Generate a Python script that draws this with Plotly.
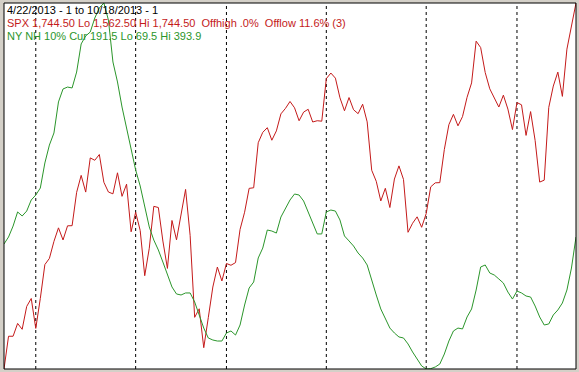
import pandas as pd
import plotly.graph_objects as go

# Trading days 4/22/2013 .. 10/18/2013
holidays = ["2013-05-27", "2013-07-04", "2013-09-02"]
dates = [d for d in pd.bdate_range("2013-04-22", "2013-10-18") if d.strftime("%Y-%m-%d") not in holidays]

spx = [
    1562.50, 1578.78, 1578.79, 1585.16, 1582.24, 1593.61, 1597.57,
    1582.70, 1597.59, 1614.42, 1617.50, 1625.96, 1632.69, 1626.67, 1633.70, 1633.77,
    1650.34, 1658.78, 1650.47, 1667.47, 1666.29, 1669.16, 1655.35, 1650.51, 1649.60,
    1660.06, 1648.36, 1654.41, 1630.74,
    1640.42, 1631.38, 1608.90, 1622.56, 1643.38, 1642.81, 1626.13, 1612.52, 1636.36,
    1626.73, 1639.04, 1651.81, 1628.93, 1588.19, 1592.43, 1573.09, 1588.03, 1603.26,
    1613.20, 1606.28,
    1614.96, 1614.08, 1615.41, 1631.89, 1640.46, 1652.32, 1652.62, 1675.02, 1680.19,
    1682.50, 1676.26, 1680.91, 1689.37, 1692.09, 1695.53, 1692.39, 1685.94, 1690.25,
    1691.65, 1685.33, 1685.96, 1685.73,
    1706.87, 1709.67, 1707.14, 1697.37, 1690.91, 1697.48, 1691.42, 1689.47, 1694.16,
    1685.39, 1661.32, 1655.83, 1646.06, 1652.35, 1642.80, 1656.96, 1663.50, 1656.78,
    1630.48, 1634.96, 1638.17, 1632.97,
    1639.77, 1653.08, 1655.08, 1655.17, 1671.71, 1683.99, 1689.13, 1683.42, 1687.99,
    1697.60, 1704.76, 1725.52, 1722.34, 1709.91, 1701.84, 1697.42, 1692.77, 1698.67,
    1691.75, 1681.55,
    1695.00, 1693.87, 1678.66, 1690.50, 1676.12, 1655.45, 1656.40, 1692.56, 1703.20,
    1710.14, 1698.06, 1721.54, 1733.15, 1744.50,
]

ny_nh = [
    180.3, 186.5, 196.2, 208.7, 205.1, 209.5, 219.3,
    223.7, 229.9, 252.1, 268.0, 278.7, 306.2, 317.7, 319.4, 318.6,
    332.7, 357.6, 364.7, 368.2, 380.6, 389.5, 393.9, 378.8, 341.6,
    323.9, 301.7, 284.0, 265.4,
    245.9, 231.7, 214.9, 195.4, 183.8, 175.0, 164.3, 152.8, 142.2,
    136.0, 135.1, 136.9, 136.9, 128.9, 117.4, 105.8, 97.0, 95.2,
    94.3, 94.3,
    101.4, 103.2, 99.6, 108.5, 126.2, 141.3, 146.6, 167.9, 176.7,
    192.7, 191.8, 190.0, 204.2, 211.3, 219.3, 224.6, 223.7, 218.4,
    208.7, 198.0, 189.2, 189.2,
    208.7, 210.4, 209.5, 201.6, 187.4, 183.0, 178.5, 172.3, 167.9,
    161.7, 147.5, 135.1, 122.7, 114.7, 105.8, 101.4, 97.9, 97.0,
    91.7, 84.6, 78.4, 72.2,
    69.5, 69.8, 71.3, 73.9, 82.8, 94.3, 103.2, 105.8, 105.0,
    115.6, 122.7, 139.5, 159.9, 161.7, 154.6, 152.8, 149.3, 145.7,
    137.7, 131.5,
    138.6, 136.9, 134.2, 133.3, 125.3, 115.6, 108.5, 109.4, 117.4,
    121.8, 128.0, 139.5, 159.0, 186.5,
]

title_text = "4/22/2013 - 1 to 10/18/2013 - 1"
spx_text = "SPX 1,744.50 Lo 1,562.50 Hi 1,744.50  Offhigh .0%  Offlow 11.6% (3)"
nh_text = "NY NH 10% Cur 191.5 Lo 69.5 Hi 393.9"

RED = "#c41a1a"
GREEN = "#2b962b"

x = list(range(len(dates)))
month_starts = [i for i in range(1, len(dates)) if dates[i].month != dates[i - 1].month]

fig = go.Figure()
fig.add_trace(go.Scatter(x=x, y=spx, mode="lines", line=dict(color=RED, width=1),
                         yaxis="y", hoverinfo="skip"))
fig.add_trace(go.Scatter(x=x, y=ny_nh, mode="lines", line=dict(color=GREEN, width=1),
                         yaxis="y2", hoverinfo="skip"))

shapes = []
for i in month_starts:
    shapes.append(dict(type="line", xref="x", yref="paper", x0=i, x1=i, y0=0, y1=1,
                       line=dict(color="black", width=1, dash="3px,3px"), layer="below"))
shapes.append(dict(type="rect", xref="paper", yref="paper", x0=0, x1=1, y0=0, y1=1,
                   line=dict(color="black", width=1), layer="above"))

font_family = "Liberation Sans, Arial, sans-serif"
annotations = [
    dict(text=title_text, x=0, y=1, xref="paper", yref="paper", xanchor="left", yanchor="top",
         showarrow=False, xshift=1, yshift=1, font=dict(family=font_family, size=11, color="black")),
    dict(text=spx_text, x=0, y=1, xref="paper", yref="paper", xanchor="left", yanchor="top",
         showarrow=False, xshift=1, yshift=-12, font=dict(family=font_family, size=11, color=RED)),
    dict(text=nh_text, x=0, y=1, xref="paper", yref="paper", xanchor="left", yanchor="top",
         showarrow=False, xshift=1, yshift=-25, font=dict(family=font_family, size=11, color=GREEN)),
]

fig.update_layout(
    width=579, height=372,
    margin=dict(l=4, r=3, t=3, b=3),
    paper_bgcolor="#d4d0c8", plot_bgcolor="white",
    showlegend=False,
    xaxis=dict(range=[0, len(dates) - 1], showgrid=False, zeroline=False, showticklabels=False, ticks=""),
    yaxis=dict(range=[1562.5, 1744.5], showgrid=False, zeroline=False, showticklabels=False, ticks=""),
    yaxis2=dict(range=[69.5, 393.9], overlaying="y", showgrid=False, zeroline=False,
                showticklabels=False, ticks=""),
    shapes=shapes,
    annotations=annotations,
)

fig.write_html("out.html", config={"displayModeBar": False})
